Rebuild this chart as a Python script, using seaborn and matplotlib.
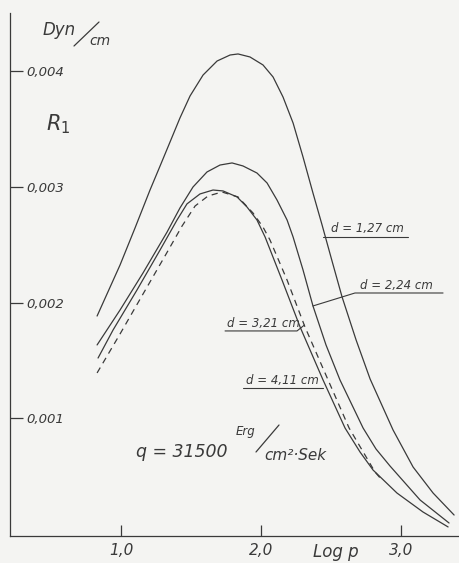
import matplotlib
matplotlib.use("Agg")
import pandas as pd
import seaborn as sns
import matplotlib.pyplot as plt
from matplotlib.lines import Line2D

# values (x = log p, y = R1 in Dyn/cm)
logp_127 = [0.829, 0.993, 1.100, 1.207, 1.279, 1.350, 1.421, 1.493, 1.586, 1.686,
            1.779, 1.836, 1.921, 2.014, 2.086, 2.157, 2.229, 2.300, 2.371, 2.436,
            2.507, 2.579, 2.679, 2.779, 2.943, 3.086, 3.229, 3.379]
r1_127 = [0.001884, 0.002325, 0.002645, 0.002973, 0.003181, 0.003388, 0.003596,
          0.003786, 0.003967, 0.004088, 0.004140, 0.004149, 0.004123, 0.004054,
          0.003950, 0.003777, 0.003552, 0.003258, 0.002947, 0.002671, 0.002360,
          0.002048, 0.001677, 0.001340, 0.000899, 0.000579, 0.000354, 0.000164]

logp_224 = [0.829, 0.993, 1.157, 1.329, 1.421, 1.514, 1.614, 1.707, 1.793, 1.871,
            1.971, 2.043, 2.114, 2.186, 2.229, 2.300, 2.371, 2.464, 2.564, 2.729,
            2.821, 2.921, 3.136, 3.343]
r1_224 = [0.001634, 0.001936, 0.002256, 0.002610, 0.002818, 0.002999, 0.003129,
          0.003189, 0.003207, 0.003181, 0.003120, 0.003034, 0.002887, 0.002714,
          0.002567, 0.002282, 0.001971, 0.001634, 0.001331, 0.000916, 0.000735,
          0.000588, 0.000294, 0.000095]

logp_321 = [0.836, 0.943, 1.114, 1.279, 1.400, 1.471, 1.564, 1.657, 1.729, 1.829,
            1.900, 1.971, 2.029, 2.150, 2.279, 2.443, 2.600, 2.707, 2.800, 2.971,
            3.157, 3.336]
r1_321 = [0.001521, 0.001763, 0.002109, 0.002455, 0.002714, 0.002853, 0.002939,
          0.002973, 0.002965, 0.002913, 0.002826, 0.002714, 0.002567, 0.002195,
          0.001789, 0.001331, 0.000916, 0.000709, 0.000553, 0.000354, 0.000190,
          0.000061]

logp_411 = [0.829, 0.993, 1.157, 1.314, 1.436, 1.529, 1.621, 1.721, 1.836, 1.943,
            2.014, 2.064, 2.186, 2.314, 2.479, 2.629, 2.814, 2.857]
r1_411 = [0.001392, 0.001729, 0.002074, 0.002403, 0.002662, 0.002835, 0.002921,
          0.002956, 0.002913, 0.002774, 0.002653, 0.002541, 0.002195, 0.001789,
          0.001331, 0.000916, 0.000536, 0.000475]

x_ticks = [1.0, 2.0, 3.0]
x_labels = ["1,0", "2,0", "3,0"]
y_ticks = [0.001, 0.002, 0.003, 0.004]
y_labels = ["0,001", "0,002", "0,003", "0,004"]

frames = []
for name, xs, ys in [("1,27", logp_127, r1_127), ("2,24", logp_224, r1_224),
                     ("3,21", logp_321, r1_321), ("4,11", logp_411, r1_411)]:
    frames.append(pd.DataFrame({"logp": xs, "R1": ys, "d": name}))
df = pd.concat(frames, ignore_index=True)

sns.set_style("ticks")
plt.rcParams["font.family"] = ["DejaVu Sans"]

ink = "#3a3a3a"
paper = "#f4f4f2"
W, H = 459, 563

fig = plt.figure(figsize=(W / 100, H / 100), dpi=100, facecolor=paper)
ax = fig.add_axes([10 / W, 27 / H, 449 / W, 523 / H], facecolor=paper)

sns.lineplot(data=df, x="logp", y="R1", hue="d", style="d",
             palette=[ink] * 4,
             dashes={"1,27": "", "2,24": "", "3,21": "", "4,11": (5, 4)},
             estimator=None, linewidth=0.9, legend=False, ax=ax)

ax.set_xlim(0.207, 3.414)
ax.set_ylim(-0.0000173, 0.004503)
sns.despine(ax=ax)
for s in ("left", "bottom"):
    ax.spines[s].set_color(ink)
    ax.spines[s].set_linewidth(0.9)

ax.set_xticks(x_ticks)
ax.set_xticklabels(x_labels, fontsize=11, style="italic", color=ink)
ax.set_yticks(y_ticks)
ax.set_yticklabels(y_labels, fontsize=9.5, style="italic", color=ink)
ax.tick_params(axis="x", direction="in", length=8, width=0.9, color=ink, pad=5)
ax.tick_params(axis="y", direction="in", length=9, width=0.9, color=ink, pad=-12)
for lab in ax.get_yticklabels():
    lab.set_horizontalalignment("left")
ax.set_xlabel("")
ax.set_ylabel("")


def fx(px):
    return px / W


def fy(py):
    return 1 - py / H


def slash(x0, y0, x1, y1):
    fig.add_artist(Line2D([fx(x0), fx(x1)], [fy(y0), fy(y1)],
                          transform=fig.transFigure, color=ink, linewidth=0.9))


txt = dict(style="italic", color=ink)
# axis captions
fig.text(fx(43), fy(30), "Dyn", fontsize=12, va="center", **txt)
slash(74, 46, 99, 22)
fig.text(fx(89), fy(41), "cm", fontsize=10, va="center", **txt)
fig.text(fx(46), fy(124), "R$_1$", fontsize=15, va="center", **txt)
fig.text(fx(313), fy(552), "Log p", fontsize=12, va="center", **txt)

# heat flux note
fig.text(fx(136), fy(452), "q = 31500", fontsize=12.5, va="center", **txt)
fig.text(fx(236), fy(431), "Erg", fontsize=8.5, va="center", **txt)
slash(256, 452, 279, 425)
fig.text(fx(264), fy(455), "cm²·Sek", fontsize=11, va="center", **txt)

# curve labels with underlines / leaders (data coordinates)
lab_kw = dict(fontsize=8.5, style="italic", color=ink, va="bottom")
line_kw = dict(color=ink, linewidth=0.8)
ax.text(2.50, 0.002580, "d = 1,27 cm", **lab_kw)
ax.plot([2.44, 3.05], [0.002567, 0.002567], **line_kw)
ax.text(2.71, 0.002095, "d = 2,24 cm", **lab_kw)
ax.plot([2.371, 2.671, 3.30], [0.001971, 0.002083, 0.002083], **line_kw)
ax.text(1.76, 0.001767, "d = 3,21 cm", **lab_kw)
ax.plot([1.743, 2.257, 2.31], [0.001755, 0.001755, 0.001806], **line_kw)
ax.text(1.89, 0.001274, "d = 4,11 cm", **lab_kw)
ax.plot([1.871, 2.443], [0.001262, 0.001262], **line_kw)

fig.savefig("out.png", dpi=100, facecolor=paper)
